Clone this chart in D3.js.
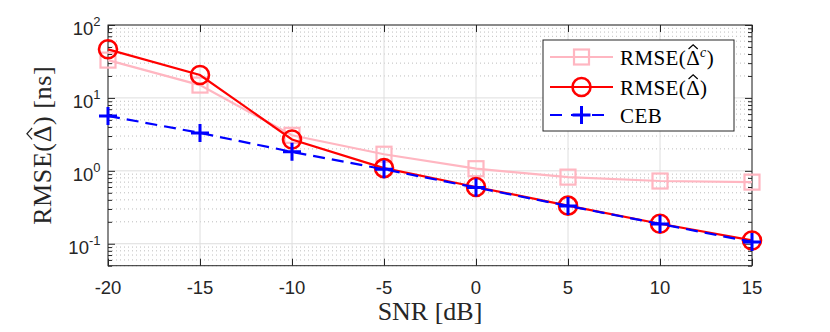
<!DOCTYPE html>
<html><head><meta charset="utf-8">
<script src="https://cdn.jsdelivr.net/npm/d3@7"></script>
<style>
html,body{margin:0;padding:0;background:#fff;}
svg{display:block;}
</style>
</head><body>
<svg id="chart" width="830" height="332"></svg>
<script>
// ---- data ----
const snr = [-20, -15, -10, -5, 0, 5, 10, 15];
const rmseC = [33, 15, 3.07, 1.69, 1.07, 0.82, 0.725, 0.70];
const rmse = [46.4, 20.6, 2.69, 1.09, 0.60, 0.333, 0.188, 0.111];
const ceb = [5.67, 3.31, 1.82, 1.05, 0.59, 0.33, 0.187, 0.106];
const xTicks = [-20, -15, -10, -5, 0, 5, 10, 15];
const yTickExps = [-1, 0, 1, 2];

// ---- layout ----
const L = 108, R = 752, T = 25, B = 265.7;
const svg = d3.select("#chart");
const x = d3.scaleLinear().domain([-20, 15]).range([L, R]);
const y = d3.scaleLog().domain([0.05, 100]).range([B, T]);
const axisCol = "#262626";
const sans = "'Liberation Sans', Arial, Helvetica, sans-serif";
const serif = "'Liberation Serif', 'Times New Roman', serif";

const yMajor = yTickExps.map(e => Math.pow(10, e));
const yMinor = [];
for (let e = -2; e <= 1; e++) for (let k = 2; k <= 9; k++) {
  const v = k * Math.pow(10, e);
  if (v >= 0.05 && v <= 100) yMinor.push(v);
}

// ---- grids ----
const grid = svg.append("g");
grid.selectAll("line.ymin").data(yMinor).join("line")
  .attr("x1", L).attr("x2", R).attr("y1", d => y(d)).attr("y2", d => y(d))
  .attr("stroke", "#bdbdbd").attr("stroke-width", 1).attr("stroke-dasharray", "1,3");
grid.selectAll("line.ymaj").data(yMajor).join("line")
  .attr("x1", L).attr("x2", R).attr("y1", d => y(d)).attr("y2", d => y(d))
  .attr("stroke", "#dedede").attr("stroke-width", 1);
grid.selectAll("line.xmaj").data(xTicks).join("line")
  .attr("x1", d => x(d)).attr("x2", d => x(d)).attr("y1", T).attr("y2", B)
  .attr("stroke", "#dedede").attr("stroke-width", 1);

// ---- axes ----
function styleAxis(g) {
  g.select(".domain").remove();
  g.selectAll(".tick line").attr("stroke", axisCol).attr("stroke-width", 1);
  g.selectAll(".tick text").remove();
}
svg.append("g").attr("transform", `translate(0,${B})`)
  .call(d3.axisBottom(x).tickValues(xTicks).tickSize(-7).tickFormat("")).call(styleAxis);
svg.append("g").attr("transform", `translate(0,${T})`)
  .call(d3.axisTop(x).tickValues(xTicks).tickSize(-7).tickFormat("")).call(styleAxis);
svg.append("g").attr("transform", `translate(${L},0)`)
  .call(d3.axisLeft(y).tickValues(yMajor).tickSize(-7).tickFormat("")).call(styleAxis);
svg.append("g").attr("transform", `translate(${L},0)`)
  .call(d3.axisLeft(y).tickValues(yMinor).tickSize(-4).tickFormat("")).call(styleAxis);
svg.append("g").attr("transform", `translate(${R},0)`)
  .call(d3.axisRight(y).tickValues(yMajor).tickSize(-7).tickFormat("")).call(styleAxis);
svg.append("g").attr("transform", `translate(${R},0)`)
  .call(d3.axisRight(y).tickValues(yMinor).tickSize(-4).tickFormat("")).call(styleAxis);

svg.append("rect").attr("x", L).attr("y", T).attr("width", R - L).attr("height", B - T)
  .attr("fill", "none").attr("stroke", axisCol).attr("stroke-width", 1);

// tick labels
svg.append("g").selectAll("text").data(xTicks).join("text")
  .attr("x", d => x(d)).attr("y", 293.5).attr("text-anchor", "middle")
  .attr("font-family", sans).attr("font-size", 18.5).attr("fill", axisCol)
  .text(d => d);
const yl = svg.append("g").selectAll("text").data(yTickExps).join("text")
  .attr("x", 100.5).attr("y", d => y(Math.pow(10, d)) + 10).attr("text-anchor", "end")
  .attr("font-family", sans).attr("font-size", 18.5).attr("fill", axisCol);
yl.append("tspan").text("10");
yl.append("tspan").attr("dy", -9).attr("font-size", 13).text(d => d);

// helper: put a hat over character idx (a capital letter) of a text element
function addHat(g, textSel, idx, fs) {
  const node = textSel.node();
  const ext = node.getExtentOfChar(idx);
  const base = node.getStartPositionOfChar(idx).y;
  const cx = ext.x + ext.width / 2;
  const w = ext.width * 0.66;
  const capTop = base - 0.665 * fs;
  const bottom = capTop - 1.6;
  const apex = bottom - 0.2 * fs;
  g.append("path")
    .attr("d", `M${cx - w / 2},${bottom}L${cx},${apex}L${cx + w / 2},${bottom}`)
    .attr("fill", "none").attr("stroke", textSel.attr("fill")).attr("stroke-width", 1.2)
    .attr("stroke-linejoin", "miter");
}

// axis titles
svg.append("text").attr("x", (L + R) / 2).attr("y", 319.5).attr("text-anchor", "middle")
  .attr("font-family", serif).attr("font-size", 26).attr("fill", axisCol)
  .text("SNR [dB]");
const ylabG = svg.append("g").attr("transform", `translate(51,${(T + B) / 2}) rotate(-90)`);
const ylab = ylabG.append("text").attr("text-anchor", "middle")
  .attr("font-family", serif).attr("font-size", 26).attr("fill", axisCol)
  .attr("letter-spacing", 0.6)
  .text("RMSE(\u0394) [ns]");
addHat(ylabG, ylab, 5, 26);

// ---- series ----
const series = [
  {name: "c", vals: rmseC, color: "#ffb6c1", marker: "square", dash: null},
  {name: "r", vals: rmse, color: "#ff0000", marker: "circle", dash: null},
  {name: "b", vals: ceb, color: "#0000ff", marker: "plus", dash: "12,7"}
];
function drawMarker(g, type, color, cx, cy) {
  if (type === "square") {
    g.append("rect").attr("x", cx - 7.5).attr("y", cy - 7.5).attr("width", 15).attr("height", 15)
      .attr("fill", "none").attr("stroke", color).attr("stroke-width", 2.2);
  } else if (type === "circle") {
    g.append("circle").attr("cx", cx).attr("cy", cy).attr("r", 9)
      .attr("fill", "none").attr("stroke", color).attr("stroke-width", 2.6);
  } else {
    g.append("path").attr("d", `M${cx - 9},${cy}H${cx + 9}M${cx},${cy - 9}V${cy + 9}`)
      .attr("stroke", color).attr("stroke-width", 3).attr("fill", "none");
  }
}
const line = d3.line().x(d => x(d[0])).y(d => y(d[1]));
series.forEach(s => {
  const g = svg.append("g");
  const pts = snr.map((v, i) => [v, s.vals[i]]);
  g.append("path").datum(pts).attr("d", line).attr("fill", "none")
    .attr("stroke", s.color).attr("stroke-width", 2.2)
    .attr("stroke-dasharray", s.dash);
  pts.forEach(p => drawMarker(g, s.marker, s.color, x(p[0]), y(p[1])));
});

// ---- legend ----
const lg = svg.append("g");
lg.append("rect").attr("x", 543).attr("y", 40).attr("width", 191).attr("height", 91)
  .attr("fill", "#fff").attr("stroke", axisCol).attr("stroke-width", 1);
const rowsY = [57, 87, 115];
series.forEach((s, i) => {
  const yy = rowsY[i];
  lg.append("line").attr("x1", 550).attr("x2", 613).attr("y1", yy).attr("y2", yy)
    .attr("stroke", s.color).attr("stroke-width", 2.2).attr("stroke-dasharray", s.dash ? "12,9" : null);
  drawMarker(lg, s.marker, s.color, 581.5, yy);
  const t = lg.append("text").attr("x", 620).attr("y", yy + 7.5)
    .attr("font-family", serif).attr("font-size", 21).attr("fill", "#000")
    .attr("letter-spacing", 0.4);
  if (i === 0) {
    t.append("tspan").text("RMSE(\u0394");
    t.append("tspan").attr("dy", -8).attr("font-size", 14).attr("font-style", "italic").text("c");
    t.append("tspan").attr("dy", 8).text(")");
    addHat(lg, t, 5, 21);
  } else if (i === 1) {
    t.text("RMSE(\u0394)");
    addHat(lg, t, 5, 21);
  } else {
    t.text("CEB");
  }
});
</script>
</body></html>
